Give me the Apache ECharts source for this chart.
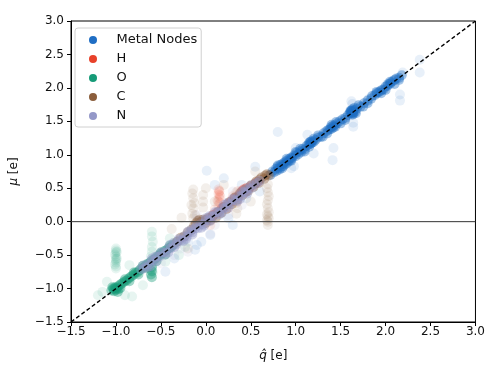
<!DOCTYPE html>
<html>
<head>
<meta charset="utf-8">
<script src="https://cdn.jsdelivr.net/npm/echarts@6/dist/echarts.min.js"></script>
<style>
html,body{margin:0;padding:0;background:#fff;}
#chart{width:488px;height:367px;}
</style>
</head>
<body>
<div id="chart"></div>
<script>
// ---- data ----
var seriesNames = ['Metal Nodes', 'H', 'O', 'C', 'N'];
var axisTicks = [-1.5, -1.0, -0.5, 0.0, 0.5, 1.0, 1.5, 2.0, 2.5, 3.0];

var metalCore = [[0.72,0.70],[0.74,0.75],[0.76,0.74],[0.78,0.79],[0.79,0.76],[0.80,0.82],[0.81,0.80],[0.82,0.78],[0.83,0.85],[0.84,0.82],[0.85,0.86],[0.86,0.83],[0.87,0.88],[0.88,0.86],[0.89,0.90],[0.90,0.87],[0.91,0.92],[0.92,0.90],[0.93,0.94],[0.94,0.92],[0.95,0.96],[0.96,0.95],[0.98,0.99],[1.00,0.98],[1.01,1.03],[1.03,1.01],[1.05,1.06],[1.06,1.04],[1.08,1.09],[1.10,1.08],[1.12,1.13],[1.14,1.15],[1.15,1.18],[1.16,1.16],[1.17,1.20],[1.18,1.18],[1.19,1.21],[1.20,1.19],[1.17,1.17],[1.16,1.19],[1.22,1.22],[1.25,1.26],[1.28,1.27],[1.31,1.32],[1.34,1.35],[1.36,1.37],[1.38,1.38],[1.39,1.41],[1.40,1.39],[1.41,1.43],[1.42,1.41],[1.43,1.44],[1.44,1.42],[1.46,1.47],[1.49,1.50],[1.52,1.53],[1.55,1.55],[1.58,1.59],[1.60,1.62],[1.61,1.64],[1.62,1.66],[1.63,1.63],[1.63,1.68],[1.64,1.65],[1.64,1.61],[1.65,1.67],[1.62,1.62],[1.61,1.66],[1.66,1.64],[1.65,1.70],[1.63,1.60],[1.62,1.65],[1.64,1.63],[1.68,1.69],[1.72,1.72],[1.76,1.77],[1.80,1.81],[1.84,1.84],[1.88,1.89],[1.90,1.92],[1.92,1.93],[1.94,1.95],[1.96,1.97],[1.98,1.98],[2.00,2.02],[2.02,2.03],[2.03,2.06],[2.05,2.06],[2.06,2.08],[2.08,2.10],[2.10,2.12],[2.12,2.14],[2.15,2.15],[2.18,2.19],
  [0.85,0.80],[0.90,0.94],[1.00,1.04],[1.10,1.05],[1.20,1.24],[1.30,1.27],[1.40,1.45],[1.50,1.47],[1.70,1.74],[1.80,1.77],[1.90,1.94],[2.00,1.97],[2.10,2.06],[0.80,0.84],[0.95,0.91],[1.05,1.09],[1.15,1.12],[1.25,1.29],[1.35,1.32],[1.45,1.49],[1.55,1.52],[1.67,1.62],[1.75,1.72],[1.85,1.88],[1.95,1.92],[2.05,2.09],[2.15,2.12]];
var metalSpread = [[0.80,1.34],[0.98,0.83],[1.20,1.02],[1.41,0.92],[1.42,1.10],[1.64,1.42],[1.64,1.48],[1.62,1.80],[1.63,1.76],[1.81,1.83],[2.16,1.90],[2.16,1.81],[2.19,2.23],[2.38,2.42],[2.38,2.23],[1.13,1.30],[1.00,1.10],[0.95,0.80],[-0.12,-0.42],[-0.35,-0.55],[0.05,-0.20],[0.25,0.05],[0.40,0.55],[0.10,0.55],[0.01,0.76],[0.55,0.82],[0.30,-0.05],[-0.20,-0.30],[0.15,0.10],[0.60,0.45],[0.45,0.35],[-0.45,-0.75],[0.20,0.65],[-0.10,-0.35],[-0.05,-0.30]];

var hCore = [[0.00,0.02],[0.04,0.05],[0.08,0.10],[0.12,0.13],[0.18,0.20],[0.20,0.22],[0.24,0.26],[0.28,0.30],[0.32,0.35],[0.36,0.38],[0.40,0.45],[0.42,0.48],[0.45,0.50],[0.48,0.50],[0.50,0.53],[0.55,0.57],[0.58,0.60]];
var hSpread = [[0.14,0.25],[0.14,0.30],[0.15,0.35],[0.15,0.40],[0.15,0.45],[0.14,0.48],[0.16,0.38],[0.13,0.32],[0.16,0.28],[0.14,0.42],[0.15,0.46],[0.35,0.30],[0.25,0.20],[0.10,0.18],[0.05,-0.05],[0.38,0.44],[0.30,0.38],[0.36,0.46],[0.43,0.43]];

var oCore = [[-1.05,-1.03],[-1.03,-1.00],[-1.02,-1.04],[-1.01,-0.98],[-1.00,-1.02],[-0.99,-1.00],[-0.98,-0.97],[-0.97,-1.01],[-1.00,-0.99],[-1.02,-1.01],[-0.96,-0.95],[-0.94,-0.93],[-0.92,-0.91],[-0.90,-0.89],[-0.88,-0.88],[-0.86,-0.85],[-0.84,-0.83],[-0.82,-0.81],[-0.80,-0.79],[-0.78,-0.76],[-0.76,-0.76],[-0.74,-0.73],[-0.72,-0.70],[-0.70,-0.70],[-0.68,-0.67],[-0.66,-0.64],[-0.64,-0.63],[-0.62,-0.61],[-0.60,-0.58],[-0.58,-0.57],[-0.56,-0.55],[-0.54,-0.52],[-0.52,-0.51],[-0.50,-0.48],[-0.48,-0.47],[-0.46,-0.44],[-0.44,-0.43],[-0.42,-0.40],[-0.40,-0.39],[-0.38,-0.37],[-0.36,-0.34],[-0.60,-0.68],[-0.60,-0.74],[-0.61,-0.79],[-0.60,-0.83],
  [-0.95,-0.99],[-0.90,-0.86],[-0.85,-0.89],[-0.80,-0.76],[-0.75,-0.79],[-0.70,-0.66],[-0.65,-0.69],[-0.55,-0.59],[-0.50,-0.46],[-0.45,-0.49],[-0.40,-0.36],[-1.04,-0.98],[-0.98,-1.05]];
var oSpread = [[-1.00,-0.40],[-1.00,-0.43],[-1.00,-0.46],[-1.01,-0.49],[-1.00,-0.52],[-0.99,-0.55],[-1.00,-0.58],[-1.00,-0.61],[-1.01,-0.64],[-1.00,-0.67],[-1.00,-0.70],[-0.99,-0.45],[-1.00,-0.56],[-0.60,-0.15],[-0.60,-0.22],[-0.59,-0.30],[-0.60,-0.38],[-0.60,-0.45],[-0.61,-0.52],[-0.60,-0.66],[-0.60,-0.70],[-0.59,-0.76],[-0.61,-0.72],[-0.34,-0.33],[-0.32,-0.30],[-0.30,-0.29],[-0.82,-1.12],[-1.20,-1.10],[-0.70,-0.95],[-0.45,-0.60],[-0.40,-0.25],[-0.85,-0.65],[-1.10,-0.90],[-0.30,-0.50],[-0.90,-1.10],[-0.23,-0.38],[-1.15,-1.05]];

var cCore = [[-0.32,-0.30],[-0.28,-0.24],[-0.24,-0.22],[-0.20,-0.16],[-0.16,-0.12],[-0.13,-0.06],[-0.11,-0.02],[-0.09,0.01],[-0.07,0.03],[-0.05,0.00],[-0.03,0.03],[0.00,-0.02],[0.02,0.05],[0.05,0.02],[0.08,0.09],[0.11,0.06],[0.14,0.15],[0.17,0.13],[0.20,0.22],[0.23,0.19],[0.26,0.29],[0.29,0.26],[0.32,0.36],[0.35,0.33],[0.38,0.42],[0.41,0.40],[0.44,0.48],[0.47,0.46],[0.50,0.54],[0.53,0.52],[0.56,0.60],[0.59,0.58],[0.62,0.66],[0.65,0.64],[0.68,0.71],[0.70,0.69],[0.66,0.69],[0.60,0.63],[0.55,0.57],[0.45,0.45]];
var cSpread = [[-0.14,0.05],[-0.15,0.12],[-0.14,0.20],[-0.13,0.28],[-0.14,0.35],[-0.15,0.42],[-0.14,0.48],[-0.12,0.10],[-0.16,0.25],[-0.03,0.21],[-0.03,0.30],[-0.03,0.40],[0.34,0.12],[0.35,0.20],[0.34,0.28],[0.35,0.36],[0.34,0.44],[0.69,-0.05],[0.68,0.02],[0.69,0.08],[0.70,0.14],[0.69,0.20],[0.68,0.26],[0.69,0.32],[0.70,0.38],[0.69,0.44],[0.68,0.50],[0.69,0.56],[0.69,0.00],[0.70,0.05],[0.68,0.11],[-0.27,0.06],[-0.38,-0.11],[0.10,0.30],[0.50,0.30],[0.20,0.55],[0.55,0.75],[-0.20,-0.40],[0.00,0.50]];

var nCore = [[-0.72,-0.71],[-0.69,-0.70],[-0.66,-0.64],[-0.63,-0.64],[-0.60,-0.58],[-0.57,-0.58],[-0.54,-0.52],[-0.51,-0.52],[-0.48,-0.46],[-0.45,-0.46],[-0.42,-0.40],[-0.39,-0.40],[-0.36,-0.34],[-0.33,-0.34],[-0.30,-0.28],[-0.27,-0.28],[-0.24,-0.22],[-0.21,-0.22],[-0.18,-0.16],[-0.15,-0.16],[-0.12,-0.10],[-0.09,-0.10],[-0.06,-0.04],[-0.03,-0.04],[0.00,0.02],[0.03,0.02],[0.06,0.08],[0.09,0.08],[0.12,0.14],[0.15,0.14],[0.18,0.20],[0.21,0.20],[0.24,0.26],[0.27,0.26],[0.30,0.32],[0.33,0.32],[0.36,0.38],[0.39,0.38],[0.42,0.44],[0.45,0.44],[0.48,0.50],[0.51,0.50],[0.54,0.56],[0.57,0.58],[0.60,0.61],[-0.65,-0.68],[-0.55,-0.59],[-0.45,-0.49],[-0.35,-0.38],[-0.25,-0.29],[-0.15,-0.19],[-0.05,-0.09],[0.05,0.01],[0.15,0.11],[0.25,0.21],[0.35,0.31],[-0.60,-0.55],[-0.40,-0.35],[-0.20,-0.15],[0.00,0.05],[0.20,0.25],[0.40,0.45],
  [-0.70,-0.66],[-0.62,-0.67],[-0.50,-0.46],[-0.42,-0.46],[-0.30,-0.26],[-0.22,-0.26],[-0.10,-0.06],[-0.02,-0.06],[0.10,0.14],[0.18,0.14],[0.30,0.34],[0.38,0.34],[0.50,0.54],[0.46,0.42],[-0.56,-0.52],[-0.36,-0.32],[-0.16,-0.12],[0.04,0.08],[0.24,0.28],[0.44,0.48]];
var nSpread = [[-0.20,-0.45],[0.05,-0.18],[-0.35,-0.50],[0.25,0.10],[-0.10,0.10],[0.40,0.25],[-0.50,-0.62],[0.10,-0.05],[-0.28,-0.40],[0.30,0.45]];

var diagLine = [[-1.5,-1.5],[3.0,3.0]];
var zeroLine = [[-1.5,0.0],[3.0,0.0]];

// ---- styling ----
var colors = ['#1f6ec4', '#e8412a', '#169b78', '#8b5e3c', '#9498c8'];
var coreSets = [metalCore, hCore, oCore, cCore, nCore];
var spreadSets = [metalSpread, hSpread, oSpread, cSpread, nSpread];
var FONT = 'DejaVu Sans';
function fmt(v){ return v.toFixed(1).replace('-', '\u2212'); }

var series = [];
for (var i = 0; i < seriesNames.length; i++) {
  series.push({
    name: seriesNames[i], type: 'scatter', data: spreadSets[i], symbolSize: 10,
    itemStyle: { color: colors[i], opacity: 0.1, borderWidth: 0 }, silent: true, z: 2 + i * 0.1
  });
  series.push({
    name: seriesNames[i], type: 'scatter', data: coreSets[i], symbolSize: 10,
    itemStyle: { color: colors[i], opacity: 0.4, borderWidth: 0 }, silent: true, z: 2 + i * 0.1 + 0.05
  });
}
series.push({
  type: 'line', data: zeroLine, symbol: 'none', silent: true, z: 5,
  lineStyle: { color: '#333', width: 1 }
});
series.push({
  type: 'line', data: diagLine, symbol: 'none', silent: true, z: 6,
  lineStyle: { color: '#000', width: 1.4, type: [4, 2.5] }
});

var chart = echarts.init(document.getElementById('chart'), null, { renderer: 'canvas' });
chart.setOption({
  animation: false,
  backgroundColor: '#fff',
  textStyle: { fontFamily: FONT },
  grid: { left: 68, right: 11, top: 21, bottom: 41, show: true, borderColor: '#000', borderWidth: 1, backgroundColor: '#fff' },
  legend: {
    data: seriesNames.map(function (n, i) { return { name: n, itemStyle: { color: colors[i], opacity: 1, borderWidth: 0 } }; }),
    orient: 'vertical', left: 75, top: 28,
    icon: 'circle', itemWidth: 23, itemHeight: 8, itemGap: 5,
    padding: [5, 4, 4, 14],
    borderColor: '#d0d0d0', borderWidth: 1, borderRadius: 3,
    backgroundColor: 'rgba(255,255,255,0.8)',
    selectedMode: false,
    textStyle: { fontFamily: FONT, fontSize: 13, color: '#111', lineHeight: 14, padding: [0, 0, 0, 7] }
  },
  xAxis: {
    type: 'value', min: -1.5, max: 3.0, interval: 0.5,
    name: '{i|q\u0302} [e]', nameLocation: 'middle', nameGap: 28,
    nameTextStyle: { fontFamily: FONT, fontSize: 12, color: '#111', rich: { i: { fontStyle: 'italic', fontFamily: FONT, fontSize: 12, color: '#111' } } },
    axisLine: { show: true, onZero: false, lineStyle: { color: '#000', width: 1 } },
    axisTick: { show: true, inside: false, length: 4, lineStyle: { color: '#000' } },
    axisLabel: { fontFamily: FONT, fontSize: 12, color: '#111', margin: 4, formatter: fmt, showMinLabel: true, showMaxLabel: true },
    splitLine: { show: false }
  },
  yAxis: {
    type: 'value', min: -1.5, max: 3.0, interval: 0.5,
    name: '{i|\u03bc} [e]', nameLocation: 'middle', nameGap: 51, nameRotate: 90,
    nameTextStyle: { fontFamily: FONT, fontSize: 12, color: '#111', rich: { i: { fontStyle: 'italic', fontFamily: FONT, fontSize: 12, color: '#111' } } },
    axisLine: { show: true, onZero: false, lineStyle: { color: '#000', width: 1 } },
    axisTick: { show: true, inside: false, length: 4, lineStyle: { color: '#000' } },
    axisLabel: { fontFamily: FONT, fontSize: 12, color: '#111', margin: 7, formatter: fmt, showMinLabel: true, showMaxLabel: true },
    splitLine: { show: false }
  },
  series: series
});
</script>
</body>
</html>
